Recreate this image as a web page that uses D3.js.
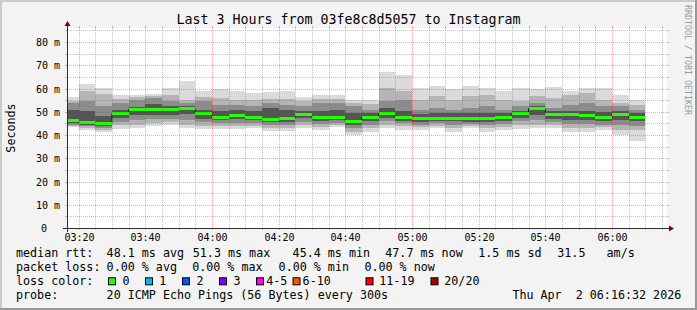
<!DOCTYPE html>
<html lang="en">
<head>
<meta charset="UTF-8">
<title>Last 3 Hours from 03fe8c8d5057 to Instagram</title>
<script src="https://d3js.org/d3.v7.min.js" charset="utf-8"></script>
<style>
  body { margin: 0; background: #f3f3f3; }
  svg text { font-family: "DejaVu Sans Mono", monospace; white-space: pre; }
</style>
</head>
<body>
<div id="chart"></div>
<script>
// start of each 5 minute step
const times = ["03:15","03:20","03:25","03:30","03:35","03:40","03:45","03:50","03:55",
  "04:00","04:05","04:10","04:15","04:20","04:25","04:30","04:35","04:40","04:45","04:50","04:55",
  "05:00","05:05","05:10","05:15","05:20","05:25","05:30","05:35","05:40","05:45","05:50","05:55",
  "06:00","06:05"];

// median rtt (ms)
const median = [46.3,45.7,45.3,49.3,51.0,51.0,51.0,51.4,49.3,
  47.9,48.7,47.9,46.7,47.1,48.9,47.9,47.9,46.1,47.6,49.3,47.6,
  47.1,47.5,47.5,47.1,47.5,47.6,49.6,51.4,48.9,48.9,48.4,47.9,
  48.9,47.9];

// smoke: upper and lower edges of each shade band, outermost (1) to innermost (4)
const hi1 = [56.4,62.1,60.2,57.2,57.0,57.8,60.2,63.4,59.0,
  59.9,58.8,58.1,58.5,58.8,56.2,57.3,57.3,55.2,55.2,66.9,65.9,
  60.2,60.9,59.8,61.2,60.2,58.8,60.2,59.8,60.5,58.8,60.2,60.2,
  57.0,55.2];
const hi2 = [54.8,58.8,57.8,55.5,56.2,56.8,57.3,55.2,56.5,
  55.9,55.2,55.0,55.5,55.5,54.5,55.5,55.5,53.8,53.5,60.2,58.8,
  55.2,56.6,55.2,56.6,57.3,55.2,54.5,56.6,55.9,57.3,58.1,55.2,
  53.8,53.0];
const hi3 = [53.8,54.5,52.3,53.8,55.2,55.9,54.5,53.8,54.5,
  53.0,53.0,52.3,53.8,53.0,52.3,53.8,53.8,52.3,50.9,54.5,55.2,
  50.9,51.6,50.9,51.6,52.3,50.9,52.5,53.8,51.6,53.0,53.8,52.3,
  52.3,50.9];
const hi4 = [50.9,50.2,48.0,50.9,52.0,53.3,52.5,52.5,50.9,
  50.5,50.9,50.5,51.6,50.9,50.2,50.5,50.9,49.5,49.5,51.6,50.2,
  49.0,49.5,49.3,49.3,49.5,49.3,50.2,52.5,50.2,50.2,50.2,49.8,
  50.2,49.5];
const lo4 = [45.2,44.3,44.0,47.5,48.5,48.5,48.8,49.0,47.0,
  46.5,46.8,46.5,45.5,45.5,47.2,46.0,46.3,44.5,46.0,47.5,46.0,
  45.5,46.0,46.0,45.8,45.8,46.0,47.5,48.5,47.0,46.5,46.3,46.0,
  46.5,46.0];
const lo3 = [44.4,43.7,43.0,45.8,46.5,46.8,47.0,46.5,45.5,
  45.0,45.3,45.0,44.3,44.3,45.8,44.8,45.2,43.0,44.5,46.0,45.0,
  44.5,45.0,44.5,44.8,44.5,44.8,46.0,46.5,45.5,44.8,44.8,44.5,
  44.5,44.0];
const lo2 = [43.9,42.8,42.0,44.4,44.5,45.0,45.5,44.5,44.0,
  43.8,44.0,44.0,43.0,43.0,44.5,43.5,44.2,41.5,42.8,44.5,43.8,
  43.3,44.0,43.0,43.8,42.8,43.5,44.3,44.5,44.3,43.0,43.0,43.3,
  42.0,42.3];
const lo1 = [43.3,42.0,41.1,42.7,43.0,43.7,44.4,43.0,42.6,
  42.6,42.7,43.0,41.8,41.8,43.0,42.3,43.4,40.1,41.1,43.0,42.3,
  42.3,43.0,41.5,43.0,41.1,42.3,42.6,43.0,43.0,41.3,41.5,42.3,
  39.8,37.3];

// packet loss per step (pings lost of 20)
const loss = [0,0,0,0,0,0,0,0,0, 0,0,0,0,0,0,0,0,0,0,0,0, 0,0,0,0,0,0,0,0,0,0,0,0, 0,0];

const yTicks = [0,10,20,30,40,50,60,70,80];
const lossLabels = ["0","1","2","3","4-5","6-10","11-19","20/20"];
const lossLimits = [0,1,2,3,5,10,19,20];
const lossColors = ["#26ff00","#00b8ff","#0059ff","#7e00ff","#ff00ff","#ff5500","#ff0000","#a00000"];

const legendRows = [
  [[16,"median rtt:"],[106.6,"48.1 ms avg"],[192.8,"51.3 ms max"],[292.6,"45.4 ms min"],
   [385.3,"47.7 ms now"],[478.3,"1.5 ms sd"],[557.3,"31.5   am/s"]],
  [[16,"packet loss:"],[106.6,"0.00 % avg"],[192.2,"0.00 % max"],[278.6,"0.00 % min"],[364.4,"0.00 % now"]],
  [[16,"loss color:"]],
  [[16,"probe:"],[106.6,"20 ICMP Echo Pings (56 Bytes) every 300s"],[512.4,"Thu Apr  2 06:16:32 2026"]]
];
const lossBoxX = [108.5,145.5,182.5,219.5,256.5,293,366,431];
const lossTextX = [122.6,159.3,196.6,233.6,266.3,302.6,379.3,444.3];

const width = 697, height = 310;
const pL = 67, pR = 667, pT = 28, pB = 228;

const parseTime = d3.timeParse("%H:%M:%S");
const start = parseTime("03:16:32"), end = parseTime("06:16:32");
const steps = times.map(t => parseTime(t + ":00"));
const stepMs = 5 * 60 * 1000;

const x = d3.scaleTime().domain([start, end]).range([pL, pR]);
const y = d3.scaleLinear().domain([0, 80]).range([pB, pB - 186]);

const svg = d3.select("#chart")
  .append("svg")
    .attr("width", width)
    .attr("height", height);

// background and shading frame
svg.append("rect").attr("width", width).attr("height", height).attr("fill", "#f3f3f3");
svg.append("path").attr("d", `M0,0H${width}V2H2V${height}H0Z`).attr("fill", "#cbcbcb");
svg.append("path").attr("d", `M${width},${height}H0V${height - 2}H${width - 2}V0H${width}Z`).attr("fill", "#999999");

// canvas
svg.append("rect")
  .attr("x", pL).attr("y", pT)
  .attr("width", pR - pL).attr("height", pB - pT)
  .attr("fill", "#ffffff");

svg.append("clipPath").attr("id", "plot")
  .append("rect")
  .attr("x", pL).attr("y", pT)
  .attr("width", pR - pL).attr("height", pB - pT);

const g = svg.append("g").attr("clip-path", "url(#plot)");

// smoke bands
const bands = [
  { hi: hi1, lo: lo1, color: "#dadada" },
  { hi: hi2, lo: lo2, color: "#b5b5b5" },
  { hi: hi3, lo: lo3, color: "#8c8c8c" },
  { hi: hi4, lo: lo4, color: "#555555" }
];
bands.forEach(b => {
  g.selectAll(null)
    .data(steps)
    .join("rect")
      .attr("x", d => x(d))
      .attr("width", d => x(new Date(+d + stepMs)) - x(d))
      .attr("y", (d, i) => y(b.hi[i]))
      .attr("height", (d, i) => y(b.lo[i]) - y(b.hi[i]))
      .attr("fill", b.color)
      .attr("shape-rendering", "crispEdges");
});

// median step line
const medPts = steps.map((d, i) => [d, median[i]]);
medPts.push([new Date(+steps[steps.length - 1] + stepMs), median[median.length - 1]]);
g.append("path")
  .datum(medPts)
  .attr("fill", "none")
  .attr("stroke", "#202020")
  .attr("stroke-width", 1)
  .attr("d", d3.line().x(d => x(d[0])).y(d => Math.round(y(d[1])) + 0.5).curve(d3.curveStepAfter));

// median coloured by loss
const lossColor = v => lossColors[lossLimits.findIndex(l => v <= l)];
g.selectAll(null)
  .data(steps)
  .join("rect")
    .attr("x", d => x(d))
    .attr("width", d => x(new Date(+d + stepMs)) - x(d))
    .attr("y", (d, i) => Math.round(y(median[i])) - 1)
    .attr("height", 3)
    .attr("fill", (d, i) => lossColor(loss[i]))
    .attr("shape-rendering", "crispEdges");

// grid
const minorCol = "rgba(120,120,120,0.45)", majorCol = "rgba(235,0,0,0.35)";
const grid = svg.append("g").attr("stroke-width", 1).attr("fill", "none");
d3.range(5, 90, 5).forEach(v => {
  const yy = Math.round(y(v)) + 0.5;
  if (yy < pT) return;
  const col = v % 10 === 0 ? majorCol : minorCol;
  grid.append("line").attr("x1", pL).attr("x2", pR).attr("y1", yy).attr("y2", yy)
    .attr("stroke", col).attr("stroke-dasharray", "1,1");
  grid.append("line").attr("x1", pL - 2).attr("x2", pL).attr("y1", yy).attr("y2", yy).attr("stroke", col);
  grid.append("line").attr("x1", pR).attr("x2", pR + 2).attr("y1", yy).attr("y2", yy).attr("stroke", col);
});
const xMinor = d3.timeMinute.every(5).range(start, end);
xMinor.forEach(t => {
  const xx = Math.round(x(t)) + 0.5;
  const col = t.getMinutes() % 20 === 0 ? majorCol : minorCol;
  grid.append("line").attr("x1", xx).attr("x2", xx).attr("y1", pT).attr("y2", pB)
    .attr("stroke", col).attr("stroke-dasharray", "1,1");
  grid.append("line").attr("x1", xx).attr("x2", xx).attr("y1", pB).attr("y2", pB + 2).attr("stroke", col);
  grid.append("line").attr("x1", xx).attr("x2", xx).attr("y1", pT - 2).attr("y2", pT).attr("stroke", col);
});

// axes
svg.append("line").attr("x1", pL - 4).attr("x2", pR + 4).attr("y1", pB + 0.5).attr("y2", pB + 0.5)
  .attr("stroke", "#2c2c2c");
svg.append("line").attr("x1", pL + 0.5).attr("x2", pL + 0.5).attr("y1", pB + 4).attr("y2", pT - 4)
  .attr("stroke", "#2c2c2c");
svg.append("path").attr("d", `M${pR + 2},${pB - 2.5}L${pR + 2},${pB + 3.5}L${pR + 7},${pB + 0.5}Z`)
  .attr("fill", "#7f0000");
svg.append("path").attr("d", `M${pL - 2.5},${pT - 2}L${pL + 3.5},${pT - 2}L${pL + 0.5},${pT - 7}Z`)
  .attr("fill", "#7f0000");

// tick labels
svg.selectAll(null)
  .data(yTicks)
  .join("text")
    .attr("x", d => d === 0 ? 47 : 60)
    .attr("y", d => Math.round(y(d)) + 4)
    .attr("text-anchor", "end")
    .style("font-size", "10px")
    .text(d => d === 0 ? "0" : `${d} m`);

svg.selectAll(null)
  .data(d3.timeMinute.every(20).range(start, end))
  .join("text")
    .attr("x", d => Math.round(x(d)) + 0.5)
    .attr("y", 240.5)
    .attr("text-anchor", "middle")
    .style("font-size", "10px")
    .text(d3.timeFormat("%H:%M"));

// title and side labels
svg.append("text")
  .attr("x", width / 2)
  .attr("y", 23.5)
  .attr("text-anchor", "middle")
  .style("font-size", "13.3px")
  .text("Last 3 Hours from 03fe8c8d5057 to Instagram");

svg.append("text")
  .attr("transform", `translate(15,${(pT + pB) / 2}) rotate(-90)`)
  .attr("text-anchor", "middle")
  .style("font-size", "11.7px")
  .text("Seconds");

svg.append("text")
  .attr("transform", "translate(685,5) rotate(90)")
  .attr("fill", "#9a9a9a")
  .style("font-size", "8.3px")
  .text("RRDTOOL / TOBI OETIKER");

// legend
legendRows.forEach((row, r) => {
  row.forEach(([lx, s]) => {
    svg.append("text")
      .attr("x", lx)
      .attr("y", 257.3 + r * 14)
      .style("font-size", "11.7px")
      .text(s);
  });
});
lossLabels.forEach((lbl, i) => {
  svg.append("rect")
    .attr("x", lossBoxX[i]).attr("y", 277.8)
    .attr("width", 7).attr("height", 7)
    .attr("fill", lossColors[i])
    .attr("stroke", "#000");
  svg.append("text")
    .attr("x", lossTextX[i])
    .attr("y", 285.3)
    .style("font-size", "11.7px")
    .text(lbl);
});
</script>
</body>
</html>
